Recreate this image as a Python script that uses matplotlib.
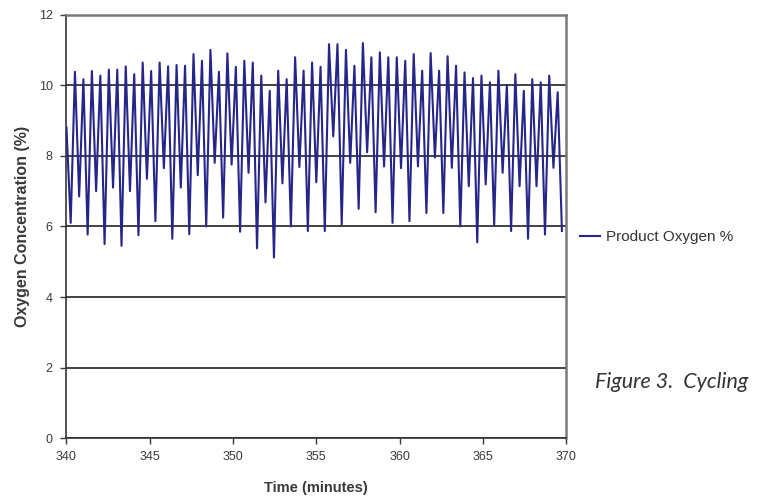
import numpy as np
import matplotlib
matplotlib.use("Agg")
import matplotlib.pyplot as plt

# ==========================================
# data (one point per half-swing)
# ==========================================
t_start = 340.0
t_end = 369.75

product_oxygen = [
    8.8, 6.1, 10.38, 6.85, 10.17, 5.77, 10.40, 7.00, 10.27, 5.50,
    10.44, 7.10, 10.44, 5.45, 10.53, 7.00, 10.31, 5.75, 10.64, 7.35,
    10.40, 6.15, 10.64, 7.65, 10.53, 5.65, 10.57, 7.10, 10.55, 5.78,
    10.88, 7.45, 10.69, 6.00, 11.00, 7.80, 10.38, 6.25, 10.90, 7.75,
    10.52, 5.85, 10.69, 7.52, 10.64, 5.38, 10.27, 6.68, 9.84, 5.12,
    10.41, 7.22, 10.17, 6.00, 10.79, 7.68, 10.41, 5.87, 10.64, 7.25,
    10.52, 5.87, 11.16, 8.55, 11.16, 6.05, 11.00, 7.80, 10.55, 6.50,
    11.19, 8.10, 10.79, 6.40, 10.93, 7.70, 10.79, 6.10, 10.79, 7.65,
    10.69, 6.15, 10.88, 7.70, 10.41, 6.38, 10.91, 7.95, 10.41, 6.38,
    10.82, 7.66, 10.55, 6.00, 10.36, 7.14, 10.20, 5.55, 10.27, 7.19,
    10.08, 6.05, 10.41, 7.52, 10.00, 5.87, 10.31, 7.14, 9.84, 5.65,
    10.17, 7.14, 10.08, 5.77, 10.27, 7.66, 9.80, 5.87,
]
time_min = np.linspace(t_start, t_end, len(product_oxygen))

x_ticks = [340, 345, 350, 355, 360, 365, 370]
y_ticks = [0, 2, 4, 6, 8, 10, 12]

plt.rcParams['font.family'] = ['Liberation Sans', 'DejaVu Sans']

fig = plt.figure(figsize=(7.57, 5.01), dpi=100)
ax = fig.add_axes([0.0878, 0.1251, 0.6600, 0.8459])

ax.plot(time_min, product_oxygen, color='#25258a', lw=1.5,
        label='Product Oxygen %', zorder=3)

ax.set_xlim(340, 370)
ax.set_ylim(0, 12)
ax.set_xticks(x_ticks)
ax.set_yticks(y_ticks)
ax.tick_params(labelsize=9, colors='#3a3a3a', length=4, width=1.0,
               direction='out')
ax.tick_params(axis='y', pad=6)
ax.tick_params(axis='x', pad=5)

# excel style gridlines + frame
ax.set_axisbelow(True)
ax.yaxis.grid(True, color='#222222', lw=1.2)
for side in ['left', 'bottom']:
    ax.spines[side].set_color('#333333')
    ax.spines[side].set_linewidth(1.2)
for side in ['top', 'right']:
    ax.spines[side].set_color('#7a7a7a')
    ax.spines[side].set_linewidth(1.8)

ax.set_xlabel('Time (minutes)', fontsize=10.5, fontweight='bold',
              color='#3a3a3a', labelpad=13)
ax.set_ylabel('Oxygen Concentration (%)', fontsize=11.5, fontweight='bold',
              color='#3a3a3a', labelpad=6)

leg = fig.legend(loc='center left', bbox_to_anchor=(0.748, 0.527),
                 frameon=False, fontsize=11, handlelength=1.3,
                 handletextpad=0.4)
for txt in leg.get_texts():
    txt.set_color('#333333')

fig.text(0.786, 0.238, 'Figure 3.  Cycling', fontsize=15.5,
         style='italic', color='#333333', va='center', ha='left',
         family=['Lato', 'DejaVu Sans'])

fig.savefig('out.png', dpi=100)
